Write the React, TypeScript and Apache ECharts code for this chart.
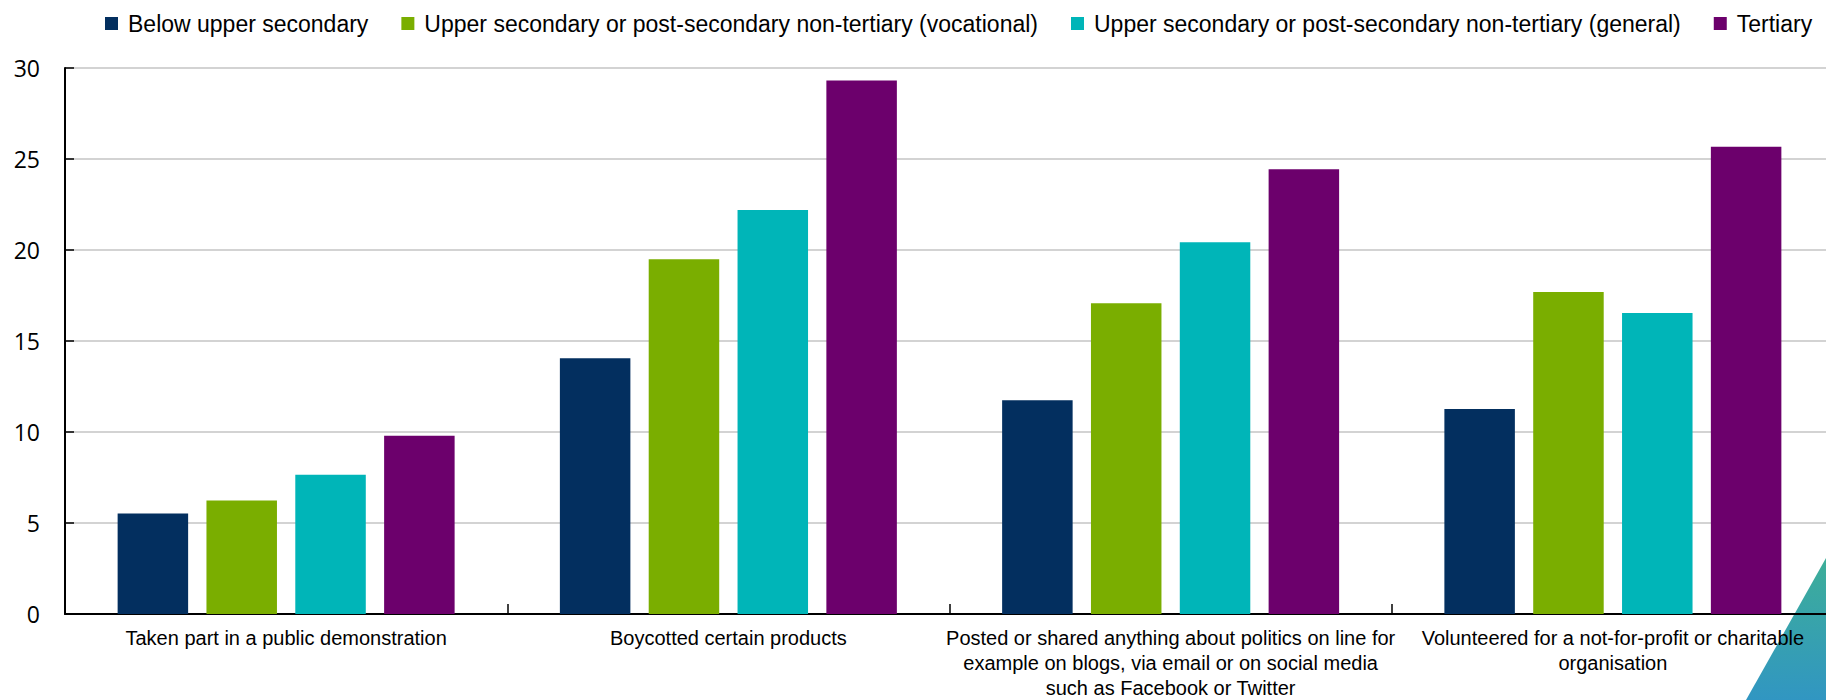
import React, { useEffect, useRef } from "react";
import * as echarts from "echarts";

const categories = [
  "Taken part in a public demonstration",
  "Boycotted certain products",
  "Posted or shared anything about politics on line for\nexample on blogs, via email or on social media\nsuch as Facebook or Twitter",
  "Volunteered for a not-for-profit or charitable\norganisation",
];

const seriesNames = [
  "Below upper secondary",
  "Upper secondary or post-secondary non-tertiary (vocational)",
  "Upper secondary or post-secondary non-tertiary (general)",
  "Tertiary",
];

const belowUpperSecondary = [5.52, 14.05, 11.75, 11.26];
const upperSecondaryVocational = [6.24, 19.49, 17.07, 17.69];
const upperSecondaryGeneral = [7.65, 22.2, 20.43, 16.54];
const tertiary = [9.79, 29.32, 24.44, 25.67];

const colors = ["#032F5F", "#7AAE00", "#00B5B8", "#6C006C"];

const yMin = 0;
const yMax = 30;
const yInterval = 5;

export default function App() {
  const ref = useRef<HTMLDivElement>(null);

  useEffect(() => {
    document.body.style.margin = "0";
    if (!ref.current) return;
    const chart = echarts.init(ref.current, undefined, { renderer: "svg" });
    const allData = [
      belowUpperSecondary,
      upperSecondaryVocational,
      upperSecondaryGeneral,
      tertiary,
    ];
    chart.setOption({
      animation: false,
      backgroundColor: "#ffffff",
      legend: {
        left: 105,
        top: 12,
        width: 1721,
        padding: 0,
        itemWidth: 13,
        itemHeight: 13,
        itemGap: 33,
        icon: "rect",
        textStyle: {
          fontFamily: "'Liberation Sans', Arial, sans-serif",
          fontSize: 23,
          color: "#000",
          padding: [0, 0, 0, 5],
        },
        data: seriesNames,
      },
      grid: {
        left: 65,
        right: -8,
        top: 68,
        bottom: 86,
        containLabel: false,
        outerBoundsMode: "none",
      },
      xAxis: {
        type: "category",
        data: categories,
        axisLine: { show: true, lineStyle: { color: "#000", width: 2 } },
        axisTick: {
          show: true,
          inside: true,
          length: 10,
          lineStyle: { color: "#000", width: 1.5 },
        },
        axisLabel: {
          interval: 0,
          margin: 11,
          fontFamily: "'Liberation Sans', Arial, sans-serif",
          fontSize: 20,
          lineHeight: 25,
          color: "#000",
          align: "center",
        },
        splitLine: { show: false },
      },
      yAxis: {
        type: "value",
        min: yMin,
        max: yMax,
        interval: yInterval,
        axisLine: { show: true, lineStyle: { color: "#000", width: 2 } },
        axisTick: {
          show: true,
          inside: true,
          length: 9,
          lineStyle: { color: "#000", width: 1.5 },
        },
        axisLabel: {
          margin: 25,
          fontFamily: "'Open Sans', sans-serif",
          fontSize: 23,
          color: "#000",
        },
        splitLine: { show: true, lineStyle: { color: "#c4c4c4", width: 1.5 } },
      },
      series: seriesNames.map((name, i) => ({
        name,
        type: "bar",
        data: allData[i],
        barWidth: 70.5,
        barGap: "26%",
        itemStyle: { color: colors[i] },
      })),
      graphic: [
        {
          type: "polygon",
          z: -10,
          silent: true,
          shape: {
            points: [
              [1826, 558],
              [1746, 700],
              [1826, 700],
            ],
          },
          style: {
            fill: new echarts.graphic.LinearGradient(0, 0, 0, 1, [
              { offset: 0, color: "#3DAE98" },
              { offset: 1, color: "#3196C2" },
            ]),
          },
        },
      ],
    });
    return () => chart.dispose();
  }, []);

  return <div ref={ref} style={{ width: 1826, height: 700 }} />;
}
